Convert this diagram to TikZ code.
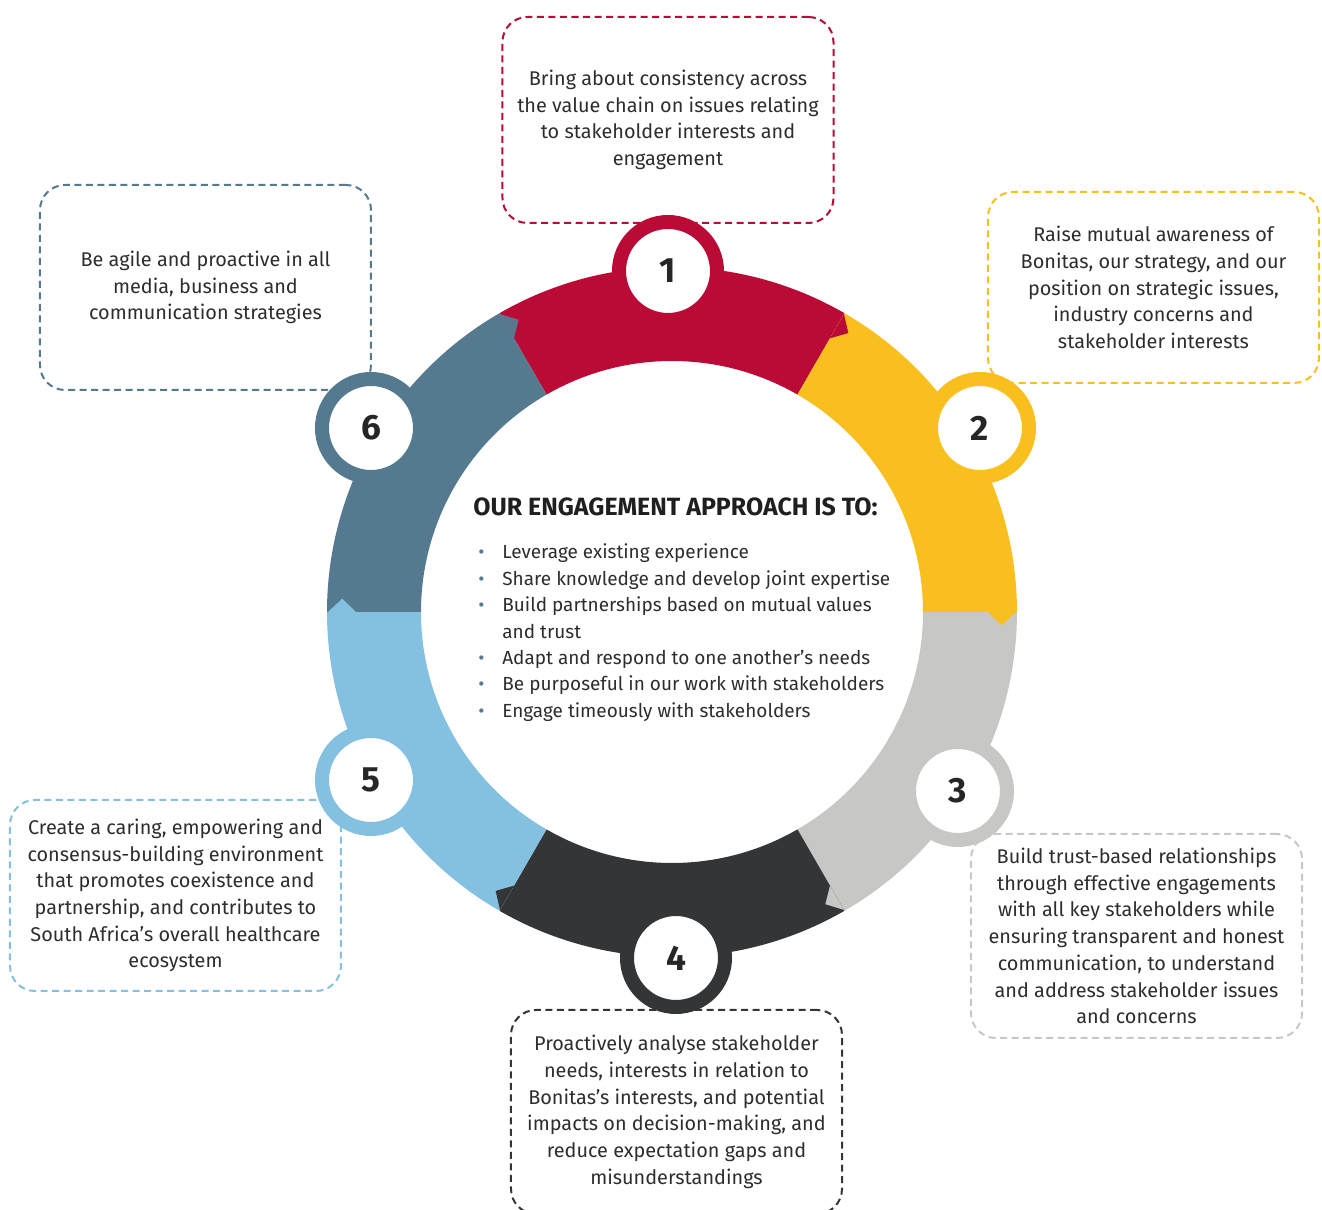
\documentclass[tikz,border=0pt]{standalone}
\usepackage{fontspec}
\setmainfont{Fira Sans}
\usetikzlibrary{positioning}
\definecolor{diagramred}{RGB}{186,10,54}
\definecolor{diagramyellow}{RGB}{249,191,30}
\definecolor{diagramgray}{RGB}{199,199,197}
\definecolor{diagramdark}{RGB}{52,53,55}
\definecolor{diagramlightblue}{RGB}{132,193,224}
\definecolor{diagramsteel}{RGB}{85,122,143}
\definecolor{diagramtext}{RGB}{45,45,45}

\begin{document}
\begin{tikzpicture}[x=0.2mm, y=0.2mm,
    every node/.style={align=center, font=\fontsize{11.3}{15.2}\selectfont, text=diagramtext},
    aimBox/.style={draw, dashed, dash pattern=on 0.14cm off 0.09cm, line width=0.04cm, rounded corners=0.5cm, minimum width=6.62cm},
    numCirc/.style={circle, fill=white, line width=0.28cm, minimum size=1.96cm, inner sep=0pt, font=\fontsize{20}{20}\selectfont\bfseries, text=black!85}]

    \useasboundingbox (-672,-598) rectangle (650,612);

    % Boxes round the ring
    \node[aimBox, draw=diagramred, minimum height=4.12cm] (consistBox) at (-4,492) {%
        Bring about consistency across\\
        the value chain on issues relating\\
        to stakeholder interests and\\
        engagement};
    \node[aimBox, draw=diagramyellow, minimum height=3.82cm] (awareBox) at (481.5,324.5) {%
        Raise mutual awareness of\\
        Bonitas, our strategy, and our\\
        position on strategic issues,\\
        industry concerns and\\
        stakeholder interests};
    \node[aimBox, draw=diagramgray, minimum height=4.08cm] (trustBox) at (464.5,-324) {%
        Build trust-based relationships\\
        through effective engagements\\
        with all key stakeholders while\\
        ensuring transparent and honest\\
        communication, to understand\\
        and address stakeholder issues\\
        and concerns};
    \node[aimBox, draw=diagramdark, minimum height=4.08cm] (analyseBox) at (4.5,-500) {%
        Proactively analyse stakeholder\\
        needs, interests in relation to\\
        Bonitas’s interests, and potential\\
        impacts on decision-making, and\\
        reduce expectation gaps and\\
        misunderstandings};
    \node[aimBox, draw=diagramlightblue, minimum height=3.82cm] (caringBox) at (-496.5,-283.5) {%
        Create a caring, empowering and\\
        consensus-building environment\\
        that promotes coexistence and\\
        partnership, and contributes to\\
        South Africa’s overall healthcare\\
        ecosystem};
    \node[aimBox, draw=diagramsteel, minimum height=4.1cm] (agileBox) at (-466.5,324.5) {%
        Be agile and proactive in all\\
        media, business and\\
        communication strategies};

    % Ring segments
    \fill[diagramred] (60:345) arc[start angle=60, end angle=120, radius=345] -- (120:251) arc[start angle=120, end angle=60, radius=251] -- cycle;
    \fill[diagramyellow] (0:345) arc[start angle=0, end angle=60, radius=345] -- (60:251) arc[start angle=60, end angle=0, radius=251] -- cycle;
    \fill[diagramgray] (-60:345) arc[start angle=-60, end angle=0, radius=345] -- (0:251) arc[start angle=0, end angle=-60, radius=251] -- cycle;
    \fill[diagramdark] (-120:345) arc[start angle=-120, end angle=-60, radius=345] -- (-60:251) arc[start angle=-60, end angle=-120, radius=251] -- cycle;
    \fill[diagramlightblue] (180:345) arc[start angle=180, end angle=240, radius=345] -- (240:251) arc[start angle=240, end angle=180, radius=251] -- cycle;
    \fill[diagramsteel] (120:345) arc[start angle=120, end angle=180, radius=345] -- (180:251) arc[start angle=180, end angle=120, radius=251] -- cycle;

    % Arrow tips where one segment runs into the next
    \fill[diagramred] (60:316) -- (60:344) -- (57.7:330) -- cycle;
    \fill[diagramyellow] (0:316) -- (0:344) -- (-2.3:330) -- cycle;
    \fill[diagramgray] (-60:316) -- (-60:344) -- (-62.3:330) -- cycle;
    \fill[diagramdark] (-120:316) -- (-120:344) -- (-122.3:330) -- cycle;
    \fill[diagramlightblue] (180:316) -- (180:344) -- (177.7:330) -- cycle;
    \fill[diagramsteel] (120:316) -- (120:344) -- (117.7:330) -- cycle;

    % Numbers
    \node[numCirc, draw=diagramred] (oneCirc) at (-4,341) {1};
    \node[numCirc, draw=diagramyellow] (twoCirc) at (308,184) {2};
    \node[numCirc, draw=diagramgray] (threeCirc) at (286,-179) {3};
    \node[numCirc, draw=diagramdark] (fourCirc) at (4,-346) {4};
    \node[numCirc, draw=diagramlightblue] (fiveCirc) at (-301,-168) {5};
    \node[numCirc, draw=diagramsteel] (sixCirc) at (-301,184) {6};

    % Centre text
    \node[anchor=base west, inner sep=0pt, font=\fontsize{14.2}{16}\selectfont\bfseries, text=black!88] (approachHead) at (-199,96) {OUR ENGAGEMENT APPROACH IS TO:};
    \node[anchor=base west, inner sep=0pt, align=left, font=\fontsize{10.8}{15}\selectfont] (approachList) at (-194,53) {%
        \begin{tabular}[t]{@{}p{0.48cm}@{}l@{}}
            \textcolor{diagramsteel}{\textbullet} & Leverage existing experience \\
            \textcolor{diagramsteel}{\textbullet} & Share knowledge and develop joint expertise \\
            \textcolor{diagramsteel}{\textbullet} & Build partnerships based on mutual values \\
             & and trust \\
            \textcolor{diagramsteel}{\textbullet} & Adapt and respond to one another’s needs \\
            \textcolor{diagramsteel}{\textbullet} & Be purposeful in our work with stakeholders \\
            \textcolor{diagramsteel}{\textbullet} & Engage timeously with stakeholders \\
        \end{tabular}};

\end{tikzpicture}
\end{document}
